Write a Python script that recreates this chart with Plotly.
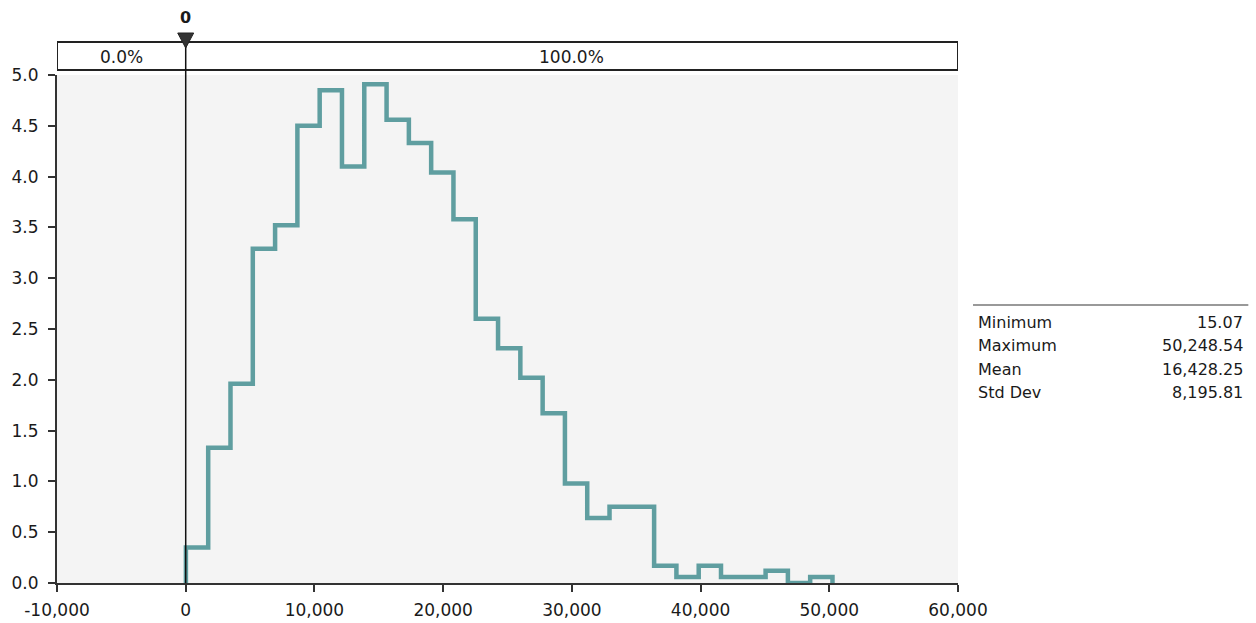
import plotly.graph_objects as go

# Histogram bin edges (29 bins from min to max) and bar heights (values x 1e-5)
bin_edges = [15.07, 1747, 3479, 5212, 6944, 8676, 10408, 12140, 13873, 15605,
             17337, 19069, 20801, 22533, 24266, 25998, 27730, 29462, 31194, 32926,
             34659, 36391, 38123, 39855, 41587, 43319, 45052, 46784, 48516, 50248.54]
heights = [0.35, 1.33, 1.96, 3.29, 3.52, 4.50, 4.85, 4.10, 4.91, 4.56,
           4.33, 4.04, 3.58, 2.60, 2.31, 2.02, 1.67, 0.98, 0.64, 0.75,
           0.75, 0.17, 0.06, 0.17, 0.06, 0.06, 0.12, 0.0, 0.06]

x_ticks = [-10000, 0, 10000, 20000, 30000, 40000, 50000, 60000]
x_tick_labels = ["-10,000", "0", "10,000", "20,000", "30,000", "40,000", "50,000", "60,000"]
y_ticks = [0.0, 0.5, 1.0, 1.5, 2.0, 2.5, 3.0, 3.5, 4.0, 4.5, 5.0]

stat_labels = ["Minimum", "Maximum", "Mean", "Std Dev"]
stat_values = ["15.07", "50,248.54", "16,428.25", "8,195.81"]

marker_value = 0
left_pct = "0.0%"
right_pct = "100.0%"

FONT = "DejaVu Sans"
TXT = "#1a1a1a"

# step outline: start at baseline, go through each bin, drop back to baseline
step_x = [bin_edges[0]]
step_y = [0]
for i, h in enumerate(heights):
    step_x += [bin_edges[i], bin_edges[i + 1]]
    step_y += [h, h]
step_x.append(bin_edges[-1])
step_y.append(0)

fig = go.Figure()
fig.add_trace(go.Scatter(x=step_x, y=step_y, mode="lines",
                         line=dict(color="#5F9EA0", width=4.5),
                         hoverinfo="skip", showlegend=False))

fig.update_layout(
    width=1256, height=623,
    margin=dict(l=57, r=298, t=75, b=40),
    paper_bgcolor="white", plot_bgcolor="#F4F4F4",
    font=dict(family=FONT, size=17, color=TXT),
    showlegend=False,
    xaxis=dict(range=[-10000, 60000], tickvals=x_ticks, ticktext=x_tick_labels,
               showgrid=False, zeroline=False, showline=True, linecolor="#333",
               linewidth=2, ticks="outside", ticklen=7, tickwidth=1.5, tickcolor="#333",
               ticklabelstandoff=4, automargin=False,
               tickfont=dict(family=FONT, size=17, color=TXT)),
    yaxis=dict(range=[0, 5.0], tickvals=y_ticks, tickformat=".1f",
               showgrid=False, zeroline=False, showline=True, linecolor="#333",
               linewidth=2, ticks="outside", ticklen=7, tickwidth=1.5, tickcolor="#333",
               ticklabelstandoff=6, automargin=False,
               tickfont=dict(family=FONT, size=17, color=TXT)),
)

H = 508.0  # plot height in px
def py(p):
    return (583 - p) / H

shapes = []
# top percentage bar
shapes.append(dict(type="rect", xref="x", yref="paper", x0=-10000, x1=60000,
                   y0=py(70), y1=py(42), line=dict(color="#222", width=2),
                   fillcolor="white", layer="above"))
# marker vertical line
shapes.append(dict(type="line", xref="x", yref="paper", x0=marker_value, x1=marker_value,
                   y0=0, y1=py(42), line=dict(color="#111", width=1.5), layer="above"))
# triangle marker
tri_w = 620
shapes.append(dict(type="path", xref="x", yref="paper",
                   path=f"M {marker_value - tri_w},{py(33)} L {marker_value + tri_w},{py(33)} L {marker_value},{py(48)} Z",
                   fillcolor="#333", line=dict(color="#222", width=1), layer="above"))
# stats separator line
shapes.append(dict(type="line", xref="paper", yref="paper",
                   x0=(972 - 57) / 900, x1=(1247 - 57) / 900, y0=py(305), y1=py(305),
                   line=dict(color="#999", width=2)))
fig.update_layout(shapes=shapes)

ann = []
ann.append(dict(x=marker_value, y=py(18), xref="x", yref="paper", text="<b>0</b>",
                xanchor="center", yanchor="middle",
                showarrow=False, font=dict(family=FONT, size=16, color=TXT)))
ann.append(dict(x=(-10000 + marker_value) / 2, y=py(57), xref="x", yref="paper", text=left_pct,
                xanchor="center", yanchor="middle",
                showarrow=False, font=dict(family=FONT, size=17, color=TXT)))
ann.append(dict(x=(60000 + marker_value) / 2, y=py(57), xref="x", yref="paper", text=right_pct,
                xanchor="center", yanchor="middle",
                showarrow=False, font=dict(family=FONT, size=17, color=TXT)))
rows = [322, 346, 369, 392]
for lab, val, r in zip(stat_labels, stat_values, rows):
    ann.append(dict(x=(975 - 57) / 900, y=py(r), xref="paper", yref="paper", text=lab,
                    xanchor="left", yanchor="middle",
                    showarrow=False, font=dict(family=FONT, size=16, color=TXT)))
    ann.append(dict(x=(1244 - 57) / 900, y=py(r), xref="paper", yref="paper", text=val,
                    xanchor="right", yanchor="middle",
                    showarrow=False, font=dict(family=FONT, size=16, color=TXT)))
fig.update_layout(annotations=ann)

fig.write_html("out.html")
